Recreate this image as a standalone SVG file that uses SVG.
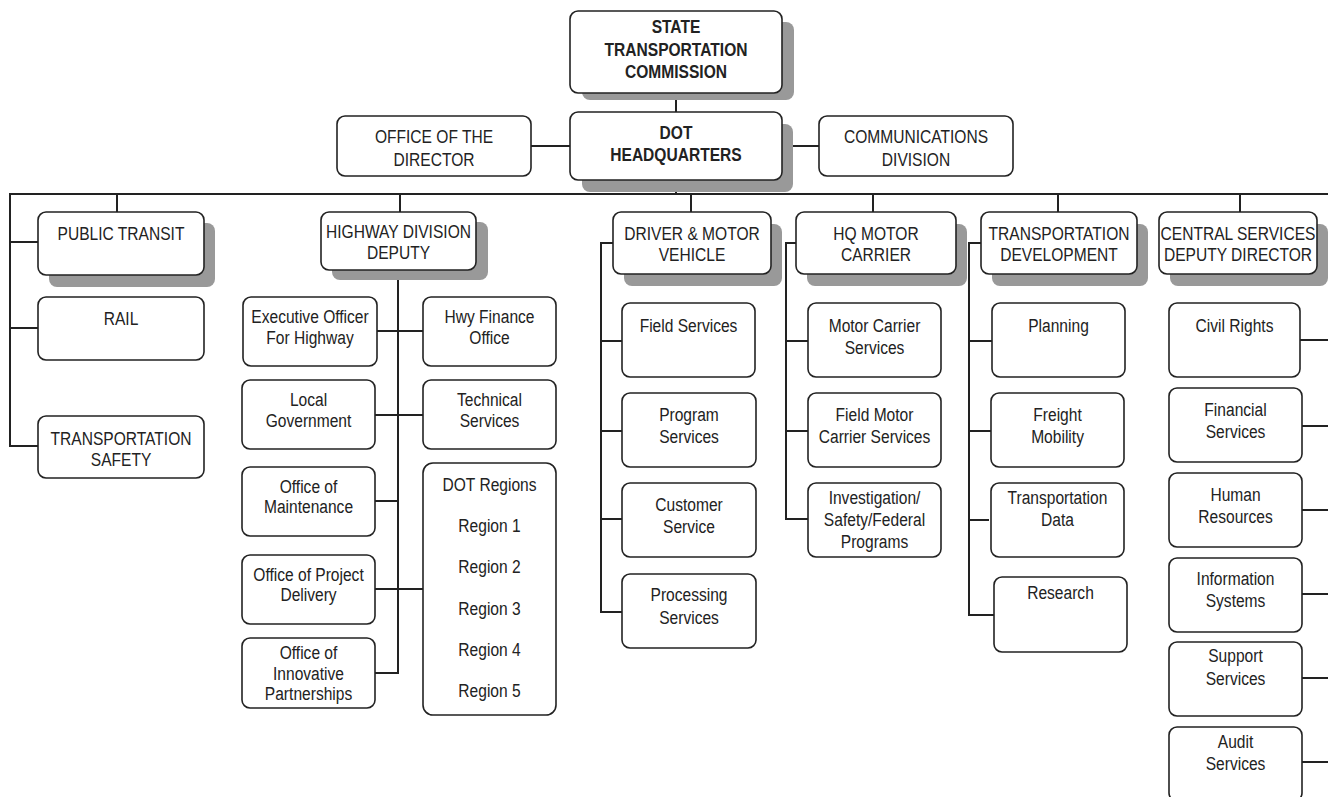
<svg xmlns="http://www.w3.org/2000/svg" width="1328" height="797" viewBox="0 0 1328 797">
<style>
.bx{fill:#fff;stroke:#222;stroke-width:1.6}
.sh{fill:#999;stroke:none}
.t{font-family:"Liberation Sans Narrow","Liberation Sans",Arial,sans-serif;font-size:19px;fill:#222;text-anchor:middle;transform-box:fill-box;transform-origin:center;transform:scaleX(0.82)}
.b{font-weight:bold}
.c line{stroke:#222;stroke-width:2}
</style>
<rect width="1328" height="797" fill="#fff"/>
<g class="c" id="connectors">
<line x1="676" y1="93" x2="676" y2="112"/>
<line x1="531" y1="146" x2="570" y2="146"/>
<line x1="782" y1="146" x2="819" y2="146"/>
<line x1="676" y1="180" x2="676" y2="194"/>
<line x1="9" y1="194" x2="1328" y2="194"/>
<line x1="10" y1="193" x2="10" y2="447"/>
<line x1="117" y1="194" x2="117" y2="212"/>
<line x1="10" y1="242" x2="38" y2="242"/>
<line x1="10" y1="328" x2="38" y2="328"/>
<line x1="9" y1="446" x2="38" y2="446"/>
<line x1="400" y1="194" x2="400" y2="212"/>
<line x1="398" y1="270" x2="398" y2="674"/>
<line x1="377" y1="331" x2="423" y2="331"/>
<line x1="375" y1="415" x2="423" y2="415"/>
<line x1="375" y1="501" x2="398" y2="501"/>
<line x1="375" y1="589" x2="423" y2="589"/>
<line x1="375" y1="673" x2="399" y2="673"/>
<line x1="691" y1="194" x2="691" y2="212"/>
<line x1="601" y1="242" x2="601" y2="613"/>
<line x1="600" y1="243" x2="613" y2="243"/>
<line x1="601" y1="341" x2="622" y2="341"/>
<line x1="601" y1="431" x2="622" y2="431"/>
<line x1="601" y1="519" x2="622" y2="519"/>
<line x1="600" y1="612" x2="622" y2="612"/>
<line x1="873" y1="194" x2="873" y2="212"/>
<line x1="786" y1="242" x2="786" y2="520"/>
<line x1="785" y1="243" x2="796" y2="243"/>
<line x1="786" y1="341" x2="808" y2="341"/>
<line x1="786" y1="431" x2="808" y2="431"/>
<line x1="785" y1="519" x2="808" y2="519"/>
<line x1="1058" y1="194" x2="1058" y2="212"/>
<line x1="969" y1="242" x2="969" y2="616"/>
<line x1="968" y1="243" x2="981" y2="243"/>
<line x1="969" y1="341" x2="992" y2="341"/>
<line x1="969" y1="431" x2="991" y2="431"/>
<line x1="969" y1="520" x2="989" y2="520"/>
<line x1="968" y1="615" x2="994" y2="615"/>
<line x1="1240" y1="194" x2="1240" y2="212"/>
<line x1="1317" y1="243" x2="1328" y2="243" style="stroke-width:3"/>
<line x1="1300" y1="340" x2="1328" y2="340"/>
<line x1="1302" y1="426" x2="1328" y2="426"/>
<line x1="1302" y1="510" x2="1328" y2="510"/>
<line x1="1302" y1="594" x2="1328" y2="594"/>
<line x1="1302" y1="678" x2="1328" y2="678"/>
<line x1="1302" y1="762" x2="1328" y2="762"/>
</g>
<g id="commission">
<rect class="sh" x="582" y="22" width="212" height="78" rx="8"/>
<rect class="bx" x="570" y="11" width="212" height="82" rx="8"/>
<text class="t b" x="676" y="33.5">STATE</text>
<text class="t b" x="676" y="56">TRANSPORTATION</text>
<text class="t b" x="676" y="78.5">COMMISSION</text>
</g>
<g id="hq">
<rect class="sh" x="582" y="124" width="211" height="68" rx="8"/>
<rect class="bx" x="570" y="112" width="212" height="68" rx="8"/>
<text class="t b" x="676" y="139">DOT</text>
<text class="t b" x="676" y="161">HEADQUARTERS</text>
</g>
<g id="director">
<rect class="bx" x="337" y="116" width="194" height="60" rx="8"/>
<text class="t" x="434" y="143">OFFICE OF THE</text>
<text class="t" x="434" y="166">DIRECTOR</text>
</g>
<g id="communications">
<rect class="bx" x="819" y="116" width="194" height="60" rx="8"/>
<text class="t" x="916" y="143">COMMUNICATIONS</text>
<text class="t" x="916" y="166">DIVISION</text>
</g>
<g id="public-transit">
<rect class="sh" x="49" y="223" width="166" height="64" rx="8"/>
<rect class="bx" x="38" y="212" width="166" height="63" rx="8"/>
<text class="t" x="121" y="240.5">PUBLIC TRANSIT</text>
</g>
<g id="rail">
<rect class="bx" x="38" y="297" width="166" height="63" rx="8"/>
<text class="t" x="121" y="325.5">RAIL</text>
</g>
<g id="transportation-safety">
<rect class="bx" x="38" y="416" width="166" height="62" rx="8"/>
<text class="t" x="121" y="445">TRANSPORTATION</text>
<text class="t" x="121" y="466.5">SAFETY</text>
</g>
<g id="highway">
<rect class="sh" x="332" y="222" width="156" height="58" rx="8"/>
<rect class="bx" x="321" y="212" width="155" height="58" rx="8"/>
<text class="t" x="398.5" y="238">HIGHWAY DIVISION</text>
<text class="t" x="398.5" y="259">DEPUTY</text>
</g>
<g id="exec-officer">
<rect class="bx" x="243" y="297" width="134" height="69" rx="8"/>
<text class="t" x="310" y="323">Executive Officer</text>
<text class="t" x="310" y="344">For Highway</text>
</g>
<g id="hwy-finance">
<rect class="bx" x="423" y="297" width="133" height="69" rx="8"/>
<text class="t" x="489.5" y="323">Hwy Finance</text>
<text class="t" x="489.5" y="344">Office</text>
</g>
<g id="local-gov">
<rect class="bx" x="242" y="380" width="133" height="69" rx="8"/>
<text class="t" x="308.5" y="406.5">Local</text>
<text class="t" x="308.5" y="427">Government</text>
</g>
<g id="technical">
<rect class="bx" x="423" y="380" width="133" height="69" rx="8"/>
<text class="t" x="489.5" y="406.5">Technical</text>
<text class="t" x="489.5" y="427">Services</text>
</g>
<g id="maintenance">
<rect class="bx" x="242" y="467" width="133" height="69" rx="8"/>
<text class="t" x="308.5" y="493">Office of</text>
<text class="t" x="308.5" y="513.5">Maintenance</text>
</g>
<g id="project-delivery">
<rect class="bx" x="242" y="555" width="133" height="69" rx="8"/>
<text class="t" x="308.5" y="581">Office of Project</text>
<text class="t" x="308.5" y="601.5">Delivery</text>
</g>
<g id="innovative">
<rect class="bx" x="242" y="638" width="133" height="70" rx="8"/>
<text class="t" x="308.5" y="659">Office of</text>
<text class="t" x="308.5" y="680">Innovative</text>
<text class="t" x="308.5" y="700">Partnerships</text>
</g>
<g id="dot-regions">
<rect class="bx" x="423" y="463" width="133" height="252" rx="10"/>
<text class="t" x="489.5" y="491.5">DOT Regions</text>
<text class="t" x="489.5" y="532.5">Region 1</text>
<text class="t" x="489.5" y="573.5">Region 2</text>
<text class="t" x="489.5" y="615">Region 3</text>
<text class="t" x="489.5" y="656">Region 4</text>
<text class="t" x="489.5" y="697">Region 5</text>
</g>
<g id="driver">
<rect class="sh" x="624" y="224" width="158" height="62" rx="8"/>
<rect class="bx" x="613" y="212" width="158" height="62" rx="8"/>
<text class="t" x="692" y="240">DRIVER &amp; MOTOR</text>
<text class="t" x="692" y="261.5">VEHICLE</text>
</g>
<g id="field-services">
<rect class="bx" x="622" y="303" width="133" height="74" rx="8"/>
<text class="t" x="688.5" y="332.5">Field Services</text>
</g>
<g id="program-services">
<rect class="bx" x="622" y="393" width="134" height="74" rx="8"/>
<text class="t" x="689" y="421.5">Program</text>
<text class="t" x="689" y="443.5">Services</text>
</g>
<g id="customer-service">
<rect class="bx" x="622" y="483" width="134" height="74" rx="8"/>
<text class="t" x="689" y="511.5">Customer</text>
<text class="t" x="689" y="533">Service</text>
</g>
<g id="processing">
<rect class="bx" x="622" y="574" width="134" height="74" rx="8"/>
<text class="t" x="689" y="601.5">Processing</text>
<text class="t" x="689" y="624.5">Services</text>
</g>
<g id="hq-motor">
<rect class="sh" x="807" y="224" width="160" height="62" rx="8"/>
<rect class="bx" x="796" y="212" width="160" height="62" rx="8"/>
<text class="t" x="876" y="240">HQ MOTOR</text>
<text class="t" x="876" y="261.5">CARRIER</text>
</g>
<g id="mc-services">
<rect class="bx" x="808" y="303" width="133" height="74" rx="8"/>
<text class="t" x="874.5" y="332.5">Motor Carrier</text>
<text class="t" x="874.5" y="354">Services</text>
</g>
<g id="field-mc">
<rect class="bx" x="808" y="393" width="133" height="74" rx="8"/>
<text class="t" x="874.5" y="421.5">Field Motor</text>
<text class="t" x="874.5" y="443.5">Carrier Services</text>
</g>
<g id="investigation">
<rect class="bx" x="808" y="483" width="133" height="74" rx="8"/>
<text class="t" x="874.5" y="504">Investigation/</text>
<text class="t" x="874.5" y="526.5">Safety/Federal</text>
<text class="t" x="874.5" y="548">Programs</text>
</g>
<g id="trans-dev">
<rect class="sh" x="992" y="224" width="156" height="62" rx="8"/>
<rect class="bx" x="981" y="212" width="156" height="62" rx="8"/>
<text class="t" x="1059" y="240">TRANSPORTATION</text>
<text class="t" x="1059" y="261.5">DEVELOPMENT</text>
</g>
<g id="planning">
<rect class="bx" x="992" y="303" width="133" height="74" rx="8"/>
<text class="t" x="1058.5" y="332">Planning</text>
</g>
<g id="freight">
<rect class="bx" x="991" y="393" width="133" height="74" rx="8"/>
<text class="t" x="1057.5" y="421.5">Freight</text>
<text class="t" x="1057.5" y="443.5">Mobility</text>
</g>
<g id="trans-data">
<rect class="bx" x="991" y="483" width="133" height="74" rx="8"/>
<text class="t" x="1057.5" y="504">Transportation</text>
<text class="t" x="1057.5" y="526">Data</text>
</g>
<g id="research">
<rect class="bx" x="994" y="577" width="133" height="75" rx="8"/>
<text class="t" x="1060.5" y="599">Research</text>
</g>
<g id="central">
<rect class="sh" x="1170" y="224" width="158" height="62" rx="8"/>
<rect class="bx" x="1159" y="212" width="158" height="62" rx="8"/>
<text class="t" x="1238" y="240">CENTRAL SERVICES</text>
<text class="t" x="1238" y="261.5">DEPUTY DIRECTOR</text>
</g>
<g id="civil-rights">
<rect class="bx" x="1169" y="303" width="131" height="74" rx="8"/>
<text class="t" x="1234.5" y="332.5">Civil Rights</text>
</g>
<g id="financial">
<rect class="bx" x="1169" y="388" width="133" height="74" rx="8"/>
<text class="t" x="1235.5" y="416.5">Financial</text>
<text class="t" x="1235.5" y="438">Services</text>
</g>
<g id="human">
<rect class="bx" x="1169" y="473" width="133" height="74" rx="8"/>
<text class="t" x="1235.5" y="501.5">Human</text>
<text class="t" x="1235.5" y="523">Resources</text>
</g>
<g id="info-systems">
<rect class="bx" x="1169" y="558" width="133" height="74" rx="8"/>
<text class="t" x="1235.5" y="585.5">Information</text>
<text class="t" x="1235.5" y="607">Systems</text>
</g>
<g id="support">
<rect class="bx" x="1169" y="642" width="133" height="74" rx="8"/>
<text class="t" x="1235.5" y="662">Support</text>
<text class="t" x="1235.5" y="685">Services</text>
</g>
<g id="audit">
<rect class="bx" x="1169" y="727" width="133" height="74" rx="8"/>
<text class="t" x="1235.5" y="748">Audit</text>
<text class="t" x="1235.5" y="770">Services</text>
</g>
</svg>
